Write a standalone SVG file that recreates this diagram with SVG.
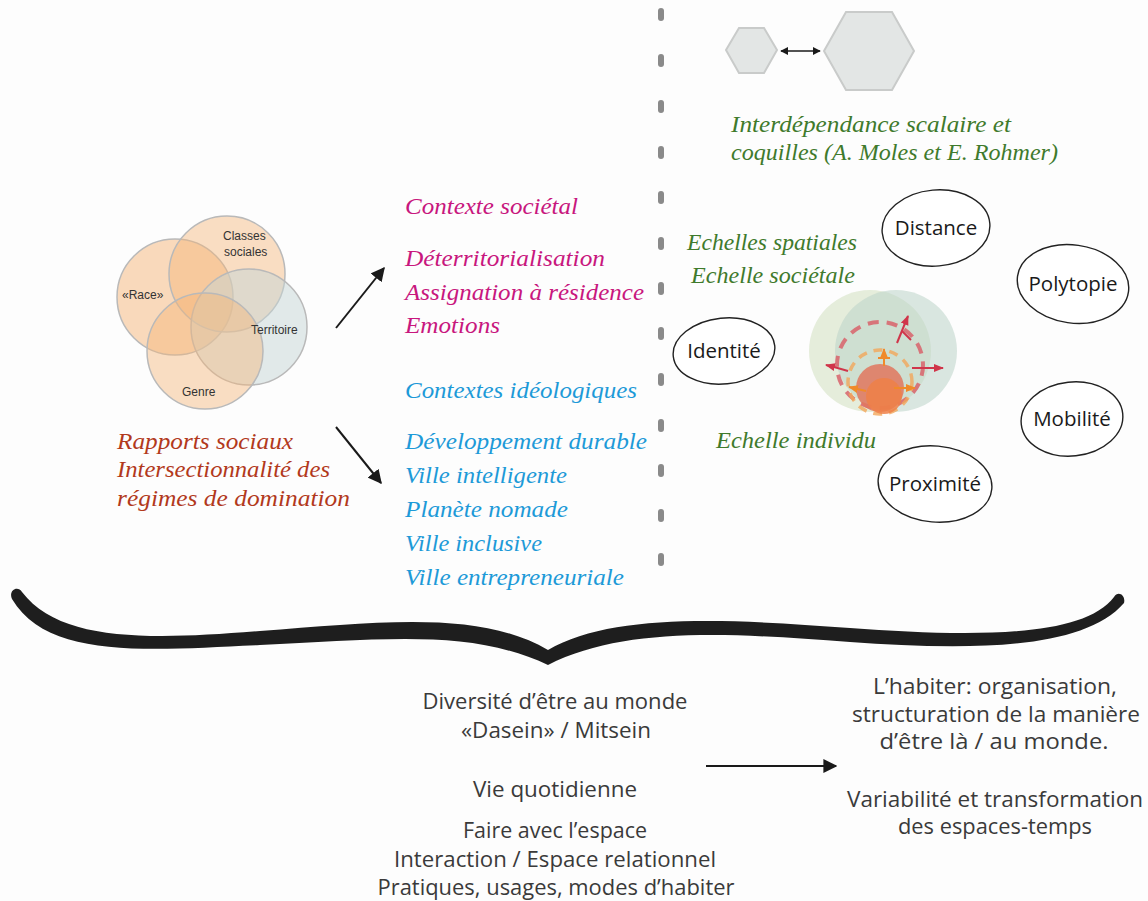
<svg xmlns="http://www.w3.org/2000/svg" width="1148" height="901" viewBox="0 0 1148 901">
<defs>
<style>
.script{font-family:"Liberation Serif","DejaVu Serif",serif;font-style:italic;font-size:23px}
.mag{fill:#c8177e}
.blu{fill:#1d9ad8}
.red{fill:#b2391c}
.grn{fill:#3f7a2c}
.venn{font-family:"Liberation Sans",Arial,sans-serif;font-size:12px;fill:#333}
.sans{font-family:"Open Sans","Liberation Sans",sans-serif;font-size:21px;fill:#3a3a3a;text-anchor:middle}
.oval{fill:#fff;stroke:#222;stroke-width:1.4}
.ovt{font-family:"Open Sans","Liberation Sans",sans-serif;font-size:20.5px;fill:#1a1a1a;text-anchor:middle}
.vc{stroke:#b9b9b9;stroke-width:1.5}
.hex{fill:#e3e6e5;stroke:#c9cbca;stroke-width:2}
.dot{fill:#8a8a8a}
.arr{stroke:#1a1a1a;stroke-width:2;fill:none}
</style>
<marker id="ah" viewBox="0 0 10 10" refX="9" refY="5" markerWidth="7" markerHeight="7" orient="auto-start-reverse">
<path d="M0,0 L10,5 L0,10 z" fill="#1a1a1a"/>
</marker>
<marker id="ahs" viewBox="0 0 10 10" refX="9" refY="5" markerWidth="5" markerHeight="5" orient="auto-start-reverse">
<path d="M0,0 L10,5 L0,10 z" fill="#1a1a1a"/>
</marker>
<marker id="ahr" viewBox="0 0 10 10" refX="9" refY="5" markerWidth="5" markerHeight="5" orient="auto">
<path d="M0,1 L10,5 L0,9 z" fill="#d0354a"/>
</marker>
<marker id="aho" viewBox="0 0 10 10" refX="9" refY="5" markerWidth="5" markerHeight="5" orient="auto">
<path d="M0,1 L10,5 L0,9 z" fill="#f08a2a"/>
</marker>
</defs>
<rect width="1148" height="901" fill="#fdfdfd"/>

<g id="separator">
<rect class="dot" x="658" y="8" width="6" height="13" rx="3"/>
<rect class="dot" x="658" y="54" width="6" height="13" rx="3"/>
<rect class="dot" x="658" y="100" width="6" height="13" rx="3"/>
<rect class="dot" x="658" y="146" width="6" height="13" rx="3"/>
<rect class="dot" x="658" y="191" width="6" height="13" rx="3"/>
<rect class="dot" x="658" y="237" width="6" height="13" rx="3"/>
<rect class="dot" x="658" y="282" width="6" height="13" rx="3"/>
<rect class="dot" x="658" y="327" width="6" height="13" rx="3"/>
<rect class="dot" x="658" y="373" width="6" height="13" rx="3"/>
<rect class="dot" x="658" y="419" width="6" height="13" rx="3"/>
<rect class="dot" x="658" y="464" width="6" height="13" rx="3"/>
<rect class="dot" x="658" y="509" width="6" height="13" rx="3"/>
<rect class="dot" x="658" y="553" width="6" height="13" rx="3"/>
</g>

<g id="venn">
<circle class="vc" cx="175" cy="297" r="58" fill="#f5b67a" fill-opacity="0.5"/>
<circle class="vc" cx="227" cy="274" r="58" fill="#f5b67a" fill-opacity="0.45"/>
<circle class="vc" cx="249" cy="327" r="58" fill="#c6d6d6" fill-opacity="0.5"/>
<circle class="vc" cx="205" cy="351" r="58" fill="#f5b67a" fill-opacity="0.45"/>
<text class="venn" x="223" y="240">Classes</text>
<text class="venn" x="224" y="256">sociales</text>
<text class="venn" x="122" y="299">«Race»</text>
<text class="venn" x="251" y="334">Territoire</text>
<text class="venn" x="182" y="396">Genre</text>
</g>

<g id="rapports">
<text class="script red" x="117" y="449" textLength="176" lengthAdjust="spacingAndGlyphs">Rapports sociaux</text>
<text class="script red" x="117" y="477" textLength="213" lengthAdjust="spacingAndGlyphs">Intersectionnalité des</text>
<text class="script red" x="117" y="506" textLength="233" lengthAdjust="spacingAndGlyphs">régimes de domination</text>
</g>

<g id="connectors">
<line class="arr" x1="336" y1="328" x2="384" y2="268" marker-end="url(#ah)"/>
<line class="arr" x1="336" y1="427" x2="381" y2="483" marker-end="url(#ah)"/>
<line class="arr" x1="706" y1="766" x2="836" y2="766" marker-end="url(#ah)"/>
<line stroke="#1a1a1a" stroke-width="1.6" x1="781" y1="51" x2="820" y2="51" marker-start="url(#ahs)" marker-end="url(#ahs)"/>
</g>

<g id="contexte-societal">
<text class="script mag" x="405" y="214" textLength="173" lengthAdjust="spacingAndGlyphs">Contexte sociétal</text>
<text class="script mag" x="405" y="266" textLength="200" lengthAdjust="spacingAndGlyphs">Déterritorialisation</text>
<text class="script mag" x="405" y="300" textLength="239" lengthAdjust="spacingAndGlyphs">Assignation à résidence</text>
<text class="script mag" x="405" y="333" textLength="95" lengthAdjust="spacingAndGlyphs">Emotions</text>
</g>

<g id="contextes-ideologiques">
<text class="script blu" x="405" y="398" textLength="232" lengthAdjust="spacingAndGlyphs">Contextes idéologiques</text>
<text class="script blu" x="405" y="449" textLength="242" lengthAdjust="spacingAndGlyphs">Développement durable</text>
<text class="script blu" x="405" y="483" textLength="162" lengthAdjust="spacingAndGlyphs">Ville intelligente</text>
<text class="script blu" x="405" y="517" textLength="163" lengthAdjust="spacingAndGlyphs">Planète nomade</text>
<text class="script blu" x="405" y="551" textLength="137" lengthAdjust="spacingAndGlyphs">Ville inclusive</text>
<text class="script blu" x="405" y="585" textLength="219" lengthAdjust="spacingAndGlyphs">Ville entrepreneuriale</text>
</g>

<g id="hexagons">
<polygon class="hex" points="726,50 739,28 764,28 777,50 764,73 739,73"/>
<polygon class="hex" points="824,51 846,12 892,12 914,51 892,90 846,90"/>
<text class="script grn" x="731" y="132" textLength="280" lengthAdjust="spacingAndGlyphs">Interdépendance scalaire et</text>
<text class="script grn" x="731" y="160" textLength="327" lengthAdjust="spacingAndGlyphs">coquilles (A. Moles et E. Rohmer)</text>
</g>

<g id="echelles">
<text class="script grn" x="687" y="250" textLength="170" lengthAdjust="spacingAndGlyphs">Echelles spatiales</text>
<text class="script grn" x="691" y="283" textLength="164" lengthAdjust="spacingAndGlyphs">Echelle sociétale</text>
<text class="script grn" x="716" y="448" textLength="160" lengthAdjust="spacingAndGlyphs">Echelle individu</text>
<circle cx="870" cy="351" r="61" fill="#dfe9d2" fill-opacity="0.8"/>
<circle cx="896" cy="351" r="61" fill="#bcd3c8" fill-opacity="0.55"/>
<circle cx="880" cy="365" r="43" fill="none" stroke="#d8636b" stroke-width="4" stroke-dasharray="11,8" stroke-opacity="0.85"/>
<circle cx="880" cy="382" r="32" fill="none" stroke="#f2a65a" stroke-width="3.5" stroke-dasharray="9,7" stroke-opacity="0.8"/>
<circle cx="880" cy="388" r="24" fill="#e0775e" fill-opacity="0.85"/>
<circle cx="884" cy="396" r="18" fill="#ef8048" fill-opacity="0.85"/>
<path d="M897,343 L908,316" stroke="#d0354a" stroke-width="2" fill="none" marker-end="url(#ahr)"/>
<path d="M902,331 L911,340" stroke="#d0354a" stroke-width="2" fill="none"/>
<path d="M912,368 L943,368" stroke="#d0354a" stroke-width="2" fill="none" marker-end="url(#ahr)"/>
<path d="M848,371 Q838,368 826,365" stroke="#d0354a" stroke-width="2" fill="none" marker-end="url(#ahr)"/>
<path d="M884,366 L884,349" stroke="#f08a2a" stroke-width="2" fill="none" marker-end="url(#aho)"/>
<path d="M878,358 L890,358" stroke="#f08a2a" stroke-width="2"/>
<path d="M894,388 L915,388" stroke="#f08a2a" stroke-width="2" fill="none" marker-end="url(#aho)"/>
<path d="M866,391 L849,387" stroke="#f08a2a" stroke-width="2" fill="none" marker-end="url(#aho)"/>
</g>

<g id="identite"><ellipse class="oval" cx="724" cy="351" rx="51" ry="33" transform="rotate(-6 724 351)"/><text class="ovt" x="724" y="358">Identité</text></g>
<g id="distance"><ellipse class="oval" cx="936" cy="228" rx="54" ry="38" transform="rotate(-5 936 228)"/><text class="ovt" x="936" y="235">Distance</text></g>
<g id="polytopie"><ellipse class="oval" cx="1073" cy="284" rx="56" ry="39" transform="rotate(8 1073 284)"/><text class="ovt" x="1073" y="291">Polytopie</text></g>
<g id="mobilite"><ellipse class="oval" cx="1072" cy="419" rx="51" ry="37" transform="rotate(-6 1072 419)"/><text class="ovt" x="1072" y="426">Mobilité</text></g>
<g id="proximite"><ellipse class="oval" cx="935" cy="484" rx="57" ry="38" transform="rotate(5 935 484)"/><text class="ovt" x="935" y="491">Proximité</text></g>

<g id="brace">
<path fill="#1e1e1e" d="M12,599 C48,660 150,650 260,645 C380,640 470,628 548,665 C622,628 720,632 850,642 C960,650 1082,652 1124,603 C1126,595 1118,590 1114,597 C1082,640 960,636 850,628 C720,618 610,614 548,650 C480,610 380,622 260,631 C150,640 60,642 22,592 C18,585 8,590 12,599 Z"/>
</g>

<g id="bottom-left">
<text class="sans" x="555" y="709" textLength="265" lengthAdjust="spacingAndGlyphs">Diversité d’être au monde</text>
<text class="sans" x="556" y="738" textLength="190" lengthAdjust="spacingAndGlyphs">«Dasein» / Mitsein</text>
<text class="sans" x="555" y="797" textLength="164" lengthAdjust="spacingAndGlyphs">Vie quotidienne</text>
<text class="sans" x="555" y="838" textLength="184" lengthAdjust="spacingAndGlyphs">Faire avec l’espace</text>
<text class="sans" x="555" y="867" textLength="322" lengthAdjust="spacingAndGlyphs">Interaction / Espace relationnel</text>
<text class="sans" x="556" y="895" textLength="357" lengthAdjust="spacingAndGlyphs">Pratiques, usages, modes d’habiter</text>
</g>

<g id="bottom-right">
<text class="sans" x="995" y="694" textLength="244" lengthAdjust="spacingAndGlyphs">L’habiter: organisation,</text>
<text class="sans" x="996" y="722" textLength="288" lengthAdjust="spacingAndGlyphs">structuration de la manière</text>
<text class="sans" x="994" y="749" textLength="229" lengthAdjust="spacingAndGlyphs">d’être là / au monde.</text>
<text class="sans" x="995" y="807" textLength="296" lengthAdjust="spacingAndGlyphs">Variabilité et transformation</text>
<text class="sans" x="995" y="834" textLength="194" lengthAdjust="spacingAndGlyphs">des espaces-temps</text>
</g>
</svg>
